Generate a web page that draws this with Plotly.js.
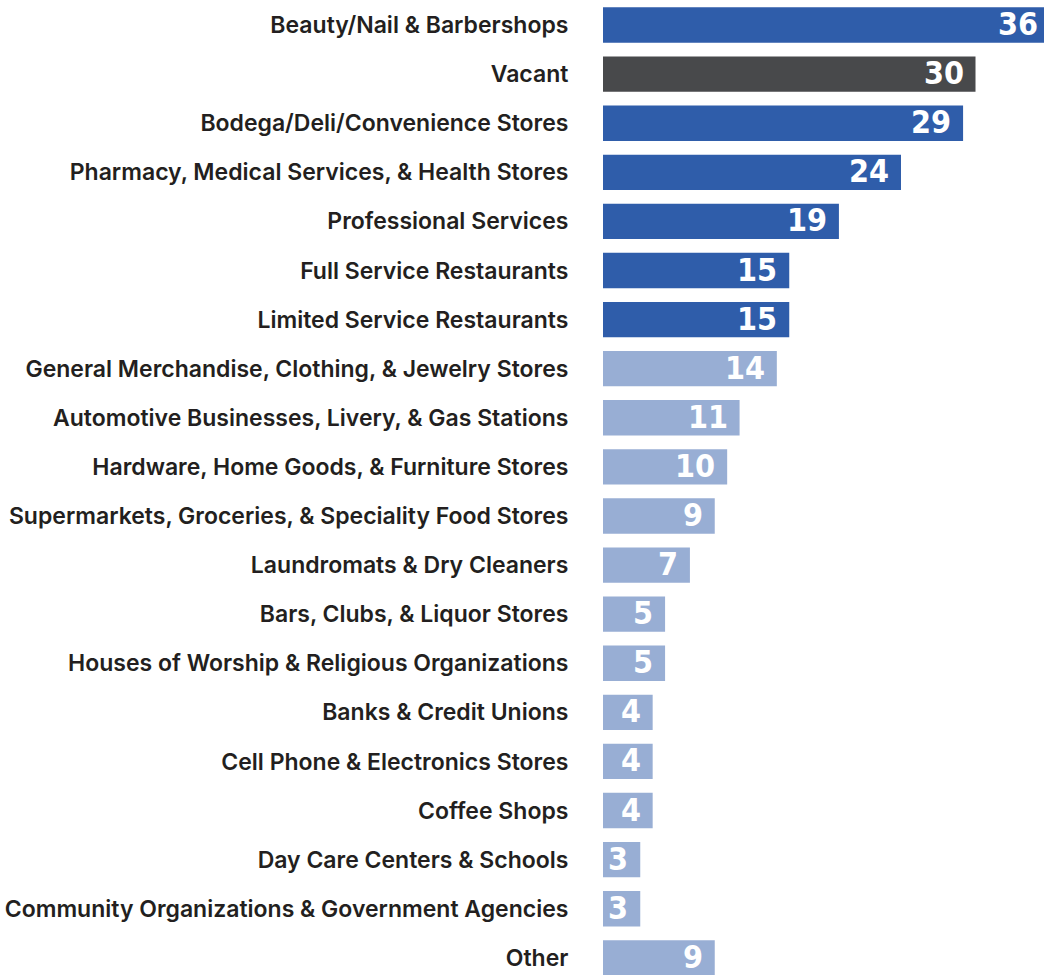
<!DOCTYPE html>
<html>
<head>
<meta charset="utf-8">
<script src="https://cdn.plot.ly/plotly-3.0.1.min.js"></script>
<style>html,body{margin:0;padding:0;background:#fff;overflow:hidden;}#chart{width:1050px;height:975px;}</style>
</head>
<body>
<div id="chart"></div>
<script>
var categories = [
  "Beauty/Nail & Barbershops",
  "Vacant",
  "Bodega/Deli/Convenience Stores",
  "Pharmacy, Medical Services, & Health Stores",
  "Professional Services",
  "Full Service Restaurants",
  "Limited Service Restaurants",
  "General Merchandise, Clothing, & Jewelry Stores",
  "Automotive Businesses, Livery, & Gas Stations",
  "Hardware, Home Goods, & Furniture Stores",
  "Supermarkets, Groceries, & Speciality Food Stores",
  "Laundromats & Dry Cleaners",
  "Bars, Clubs, & Liquor Stores",
  "Houses of Worship & Religious Organizations",
  "Banks & Credit Unions",
  "Cell Phone & Electronics Stores",
  "Coffee Shops",
  "Day Care Centers & Schools",
  "Community Organizations & Government Agencies",
  "Other"
];
var counts = [36, 30, 29, 24, 19, 15, 15, 14, 11, 10, 9, 7, 5, 5, 4, 4, 4, 3, 3, 9];
var groups = ["top","vacant","top","top","top","top","top",
  "rest","rest","rest","rest","rest","rest","rest","rest","rest","rest","rest","rest","rest"];

var groupColors = {top: "#2F5DAA", vacant: "#48494B", rest: "#98AED4"};
var colors = groups.map(function(g){ return groupColors[g]; });

var trace = {
  type: "bar",
  orientation: "h",
  x: counts,
  y: categories,
  marker: {color: colors, line: {width: 0}},
  hoverinfo: "none",
  width: 0.72
};

var valueFont = {family: "DejaVu Sans Condensed", size: 32, color: "#ffffff", weight: 700};
var annotations = counts.map(function(v, i){
  return {
    x: v, y: categories[i], xref: "x", yref: "y",
    text: String(v), showarrow: false,
    xanchor: "right", yanchor: "middle", xshift: -10, yshift: 1,
    font: valueFont
  };
});

var layout = {
  width: 1050,
  height: 975,
  margin: {l: 603, r: 0, t: 0, b: 0, pad: 0},
  paper_bgcolor: "#ffffff",
  plot_bgcolor: "#ffffff",
  showlegend: false,
  annotations: annotations,
  xaxis: {range: [0, 36], visible: false, fixedrange: true},
  yaxis: {
    type: "category",
    range: [19.35, -0.51],
    showgrid: false,
    zeroline: false,
    showline: false,
    ticks: "outside",
    ticklen: 29,
    tickcolor: "rgba(0,0,0,0)",
    tickfont: {family: "Inter, 'Noto Sans', sans-serif", size: 23, color: "#231f20", weight: 600},
    automargin: false
  }
};

Plotly.newPlot("chart", [trace], layout, {displayModeBar: false, staticPlot: true});
</script>
</body>
</html>
